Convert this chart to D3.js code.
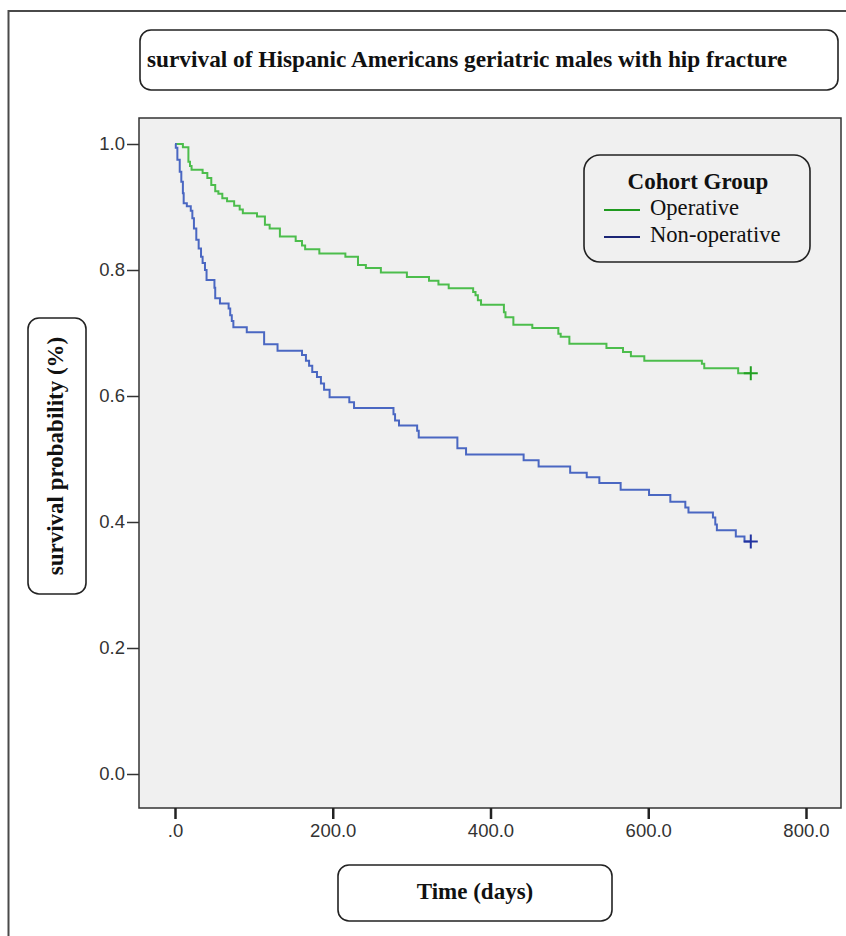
<!DOCTYPE html>
<html>
<head>
<meta charset="utf-8">
<script src="https://cdn.jsdelivr.net/npm/d3@7"></script>
<style>
  html, body { margin: 0; padding: 0; background: #fff; }
  svg { display: block; }
  .serif { font-family: "Liberation Serif", "Times New Roman", serif; fill: #111; }
  .tick text { font-family: "Liberation Sans", Arial, sans-serif; font-size: 18.5px; fill: #333; }
</style>
</head>
<body>
<svg id="chart"></svg>
<script>
// Kaplan-Meier steps: time (days) of each drop and survival after it
const opTime = [0, 10, 17, 19, 21, 35, 41, 46, 51, 55, 60, 66, 75, 82, 86, 104, 114, 120, 133, 153,
  161, 165, 183, 216, 232, 242, 261, 294, 322, 334, 347, 378, 381, 384, 388, 417, 419, 429, 453,
  486, 489, 500, 547, 568, 578, 595, 668, 671, 714, 730];
const opSurv = [1.0, 0.995, 0.972, 0.965, 0.959, 0.954, 0.946, 0.935, 0.925, 0.921, 0.914, 0.909,
  0.902, 0.896, 0.890, 0.885, 0.872, 0.866, 0.853, 0.846, 0.839, 0.833, 0.826, 0.821, 0.808, 0.803,
  0.796, 0.789, 0.783, 0.777, 0.771, 0.765, 0.760, 0.752, 0.745, 0.733, 0.725, 0.713, 0.708, 0.699,
  0.694, 0.683, 0.676, 0.670, 0.663, 0.656, 0.651, 0.644, 0.636, 0.636];

const nonTime = [0, 1, 3, 6, 8, 10, 11, 15, 20, 22, 24, 27, 30, 33, 35, 38, 40, 50, 51, 57, 68, 70,
  72, 74, 91, 113, 130, 161, 166, 170, 174, 180, 185, 189, 196, 221, 227, 277, 279, 284, 307, 309,
  358, 369, 442, 461, 501, 522, 538, 565, 601, 628, 647, 651, 682, 685, 687, 711, 722, 730];
const nonSurv = [1.0, 0.994, 0.975, 0.956, 0.940, 0.922, 0.906, 0.901, 0.894, 0.882, 0.866, 0.848,
  0.834, 0.821, 0.811, 0.800, 0.784, 0.772, 0.755, 0.747, 0.739, 0.728, 0.719, 0.709, 0.701, 0.682,
  0.672, 0.665, 0.656, 0.648, 0.638, 0.630, 0.620, 0.610, 0.598, 0.590, 0.581, 0.571, 0.561, 0.553,
  0.545, 0.534, 0.517, 0.507, 0.498, 0.488, 0.478, 0.471, 0.462, 0.451, 0.443, 0.432, 0.423, 0.415,
  0.407, 0.396, 0.387, 0.377, 0.369, 0.369];

const groups = ["Operative", "Non-operative"];
const xTicks = [0, 200, 400, 600, 800];
const yTicks = [0, 0.2, 0.4, 0.6, 0.8, 1.0];

const width = 846, height = 936;
const lineColor = { "Operative": "#4cbd4c", "Non-operative": "#4a67c2" };
const keyColor = { "Operative": "#1f9a1f", "Non-operative": "#1b2575" };
const markColor = { "Operative": "#23a023", "Non-operative": "#2233a0" };

const svg = d3.select("#chart")
    .attr("width", width)
    .attr("height", height);

// outer frame (top + left only visible)
svg.append("path")
    .attr("d", "M8.5,936 V11 H846")
    .attr("fill", "none")
    .attr("stroke", "#4a4a4a")
    .attr("stroke-width", 2);

// plot panel
const panel = { x0: 139, y0: 118, x1: 841, y1: 808 };

svg.append("rect")
    .attr("x", panel.x0).attr("y", panel.y0)
    .attr("width", panel.x1 - panel.x0).attr("height", panel.y1 - panel.y0)
    .attr("fill", "#f0f0f0")
    .attr("stroke", "#333")
    .attr("stroke-width", 1.5);

const x = d3.scaleLinear().domain([0, 800]).range([175, 806]);
const y = d3.scaleLinear().domain([0, 1]).range([774, 144]);

// axes
const xAxis = svg.append("g")
    .attr("transform", `translate(0,${panel.y1})`)
    .call(d3.axisBottom(x).tickValues(xTicks).tickSize(11).tickPadding(5)
        .tickFormat(d => d === 0 ? ".0" : d.toFixed(1)));
xAxis.select(".domain").remove();
xAxis.selectAll(".tick line").attr("stroke", "#222").attr("stroke-width", 2.5);

const yAxis = svg.append("g")
    .attr("transform", `translate(${panel.x0},0)`)
    .call(d3.axisLeft(y).tickValues(yTicks).tickSize(12).tickPadding(2)
        .tickFormat(d => d.toFixed(1)));
yAxis.select(".domain").remove();
yAxis.selectAll(".tick line").attr("stroke", "#333").attr("stroke-width", 1.5);

// survival curves
const series = [
  { name: "Operative", pts: opTime.map((t, i) => [t, opSurv[i]]) },
  { name: "Non-operative", pts: nonTime.map((t, i) => [t, nonSurv[i]]) }
];

const line = d3.line()
    .x(d => x(d[0]))
    .y(d => y(d[1]))
    .curve(d3.curveStepAfter);

svg.append("g").selectAll("path")
    .data(series)
    .join("path")
    .attr("d", d => line(d.pts))
    .attr("fill", "none")
    .attr("stroke", d => lineColor[d.name])
    .attr("stroke-width", 2);

// censor marks at the last point
svg.append("g").selectAll("path")
    .data(series)
    .join("path")
    .attr("d", d => {
      const p = d.pts[d.pts.length - 1];
      const cx = x(p[0]), cy = y(p[1]);
      return `M${cx - 7},${cy} H${cx + 7} M${cx},${cy - 7} V${cy + 7}`;
    })
    .attr("stroke", d => markColor[d.name])
    .attr("stroke-width", 2);

// rounded boxes with labels
function box(x0, y0, w, h, r) {
  svg.append("rect")
      .attr("x", x0).attr("y", y0)
      .attr("width", w).attr("height", h)
      .attr("rx", r).attr("ry", r)
      .attr("fill", "#fff")
      .attr("stroke", "#222")
      .attr("stroke-width", 1.6);
}

box(140, 30, 698, 60, 11);
svg.append("text")
    .attr("class", "serif")
    .attr("x", 147).attr("y", 62)
    .attr("dominant-baseline", "middle")
    .attr("font-size", 23.3).attr("font-weight", "bold")
    .text("survival of Hispanic Americans geriatric males with hip fracture");

box(28, 318, 58, 276, 11);
svg.append("text")
    .attr("class", "serif")
    .attr("transform", "translate(58,456) rotate(-90)")
    .attr("text-anchor", "middle")
    .attr("dominant-baseline", "middle")
    .attr("font-size", 23).attr("font-weight", "bold")
    .text("survival probability (%)");

box(338, 865, 274, 56, 11);
svg.append("text")
    .attr("class", "serif")
    .attr("x", 475).attr("y", 894)
    .attr("text-anchor", "middle")
    .attr("dominant-baseline", "middle")
    .attr("font-size", 23).attr("font-weight", "bold")
    .text("Time (days)");

// legend
svg.append("rect")
    .attr("x", 584).attr("y", 155)
    .attr("width", 226).attr("height", 107)
    .attr("rx", 16).attr("ry", 16)
    .attr("fill", "#f0f0f0")
    .attr("stroke", "#222")
    .attr("stroke-width", 1.6);

svg.append("text")
    .attr("class", "serif")
    .attr("x", 698).attr("y", 184)
    .attr("text-anchor", "middle")
    .attr("dominant-baseline", "middle")
    .attr("font-size", 23).attr("font-weight", "bold")
    .text("Cohort Group");

const key = svg.append("g").selectAll("g")
    .data(groups)
    .join("g")
    .attr("transform", (d, i) => `translate(0,${210 + i * 27})`);

key.append("line")
    .attr("x1", 604).attr("x2", 640)
    .attr("stroke", d => keyColor[d])
    .attr("stroke-width", 2);

key.append("text")
    .attr("class", "serif")
    .attr("x", 650)
    .attr("dominant-baseline", "middle")
    .attr("font-size", 22.6)
    .text(d => d);
</script>
</body>
</html>
